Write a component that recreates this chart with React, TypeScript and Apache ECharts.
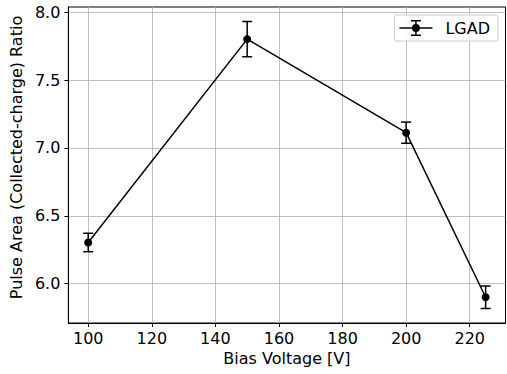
import { useEffect, useRef } from 'react';
import * as echarts from 'echarts';

const voltages = [100, 150, 200, 225];
const ratios = [6.303, 7.803, 7.113, 5.899];
const errors = [0.068, 0.13, 0.078, 0.083];
const xTicks = [100, 120, 140, 160, 180, 200, 220];
const yTicks = [6.0, 6.5, 7.0, 7.5, 8.0];
const seriesName = 'LGAD';

const FONT = 'DejaVu Sans';
const legendIcon =
  'path://M0 7.25H33V8.75H0Z M15.75 0H17.25V16H15.75Z M11.5 0H21.5V1.5H11.5Z M11.5 14.5H21.5V16H11.5Z M12.5 8A4 4 0 1 1 20.5 8A4 4 0 1 1 12.5 8Z';

export default function App() {
  const ref = useRef<HTMLDivElement>(null);
  useEffect(() => {
    if (!ref.current) return;
    const chart = echarts.init(ref.current, null, { renderer: 'svg' });
    const lineData = voltages.map((v, i) => [v, ratios[i]]);
    const errData = voltages.map((v, i) => [v, ratios[i] - errors[i], ratios[i] + errors[i]]);
    const axisCommon = {
      axisLine: { show: true, lineStyle: { color: '#000', width: 1 } },
      axisTick: { show: true, length: 4, lineStyle: { color: '#000', width: 1 } },
      splitLine: { show: true, lineStyle: { color: '#b0b0b0', width: 0.8 } },
    };
    chart.setOption({
      animation: false,
      backgroundColor: '#fff',
      textStyle: { fontFamily: FONT },
      grid: {
        left: 68,
        top: 7,
        right: 1.5,
        bottom: 51,
        show: true,
        borderColor: '#000',
        borderWidth: 1,
        containLabel: false,
      },
      legend: {
        data: [{ name: seriesName, icon: legendIcon }],
        right: 9,
        top: 15,
        orient: 'vertical',
        itemWidth: 33,
        itemHeight: 16,
        padding: [5, 8, 5, 5],
        backgroundColor: 'rgba(255,255,255,0.8)',
        borderColor: '#cccccc',
        borderWidth: 1,
        borderRadius: 3,
        textStyle: { color: '#000', fontSize: 16, fontFamily: FONT, padding: [0, 0, 0, 8] },
      },
      xAxis: {
        type: 'value',
        min: 93.75,
        max: 231.25,
        name: 'Bias Voltage [V]',
        nameLocation: 'middle',
        nameGap: 27,
        nameTextStyle: { color: '#000', fontSize: 16, fontFamily: FONT },
        ...axisCommon,
        axisTick: { ...axisCommon.axisTick, customValues: xTicks },
        axisLabel: {
          customValues: xTicks,
          color: '#000',
          fontSize: 16,
          fontFamily: FONT,
          margin: 7,
        },
      },
      yAxis: {
        type: 'value',
        min: 5.709,
        max: 8.04,
        name: 'Pulse Area (Collected-charge) Ratio',
        nameLocation: 'middle',
        nameGap: 37,
        nameTextStyle: { color: '#000', fontSize: 16, fontFamily: FONT, padding: [0, 0, 0, 15] },
        ...axisCommon,
        axisTick: { ...axisCommon.axisTick, customValues: yTicks },
        axisLabel: {
          customValues: yTicks,
          color: '#000',
          fontSize: 16,
          fontFamily: FONT,
          margin: 8,
          formatter: (v: number) => v.toFixed(1),
        },
      },
      series: [
        {
          name: seriesName,
          type: 'line',
          data: lineData,
          symbol: 'circle',
          symbolSize: 8,
          itemStyle: { color: '#000' },
          lineStyle: { color: '#000', width: 1.5 },
          z: 3,
        },
        {
          name: 'errors',
          type: 'custom',
          data: errData,
          encode: { x: 0, y: [1, 2] },
          z: 4,
          renderItem: (params: any, api: any) => {
            const x = api.value(0);
            const lo = api.coord([x, api.value(1)]);
            const hi = api.coord([x, api.value(2)]);
            const cap = 5;
            const style = { stroke: '#000', lineWidth: 1.5 };
            return {
              type: 'group',
              children: [
                { type: 'line', shape: { x1: lo[0], y1: lo[1], x2: hi[0], y2: hi[1] }, style },
                { type: 'line', shape: { x1: lo[0] - cap, y1: lo[1], x2: lo[0] + cap, y2: lo[1] }, style },
                { type: 'line', shape: { x1: hi[0] - cap, y1: hi[1], x2: hi[0] + cap, y2: hi[1] }, style },
              ],
            };
          },
        },
      ],
    });
    return () => chart.dispose();
  }, []);
  return <div ref={ref} style={{ width: 507, height: 374, position: 'fixed', left: 0, top: 0 }} />;
}
